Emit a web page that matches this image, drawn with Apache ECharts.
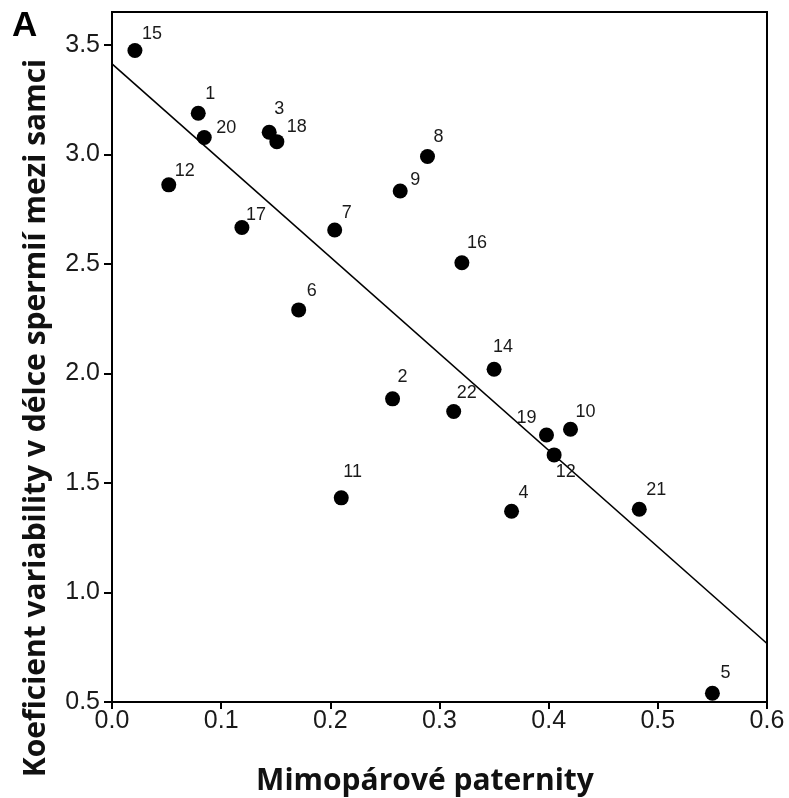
<!DOCTYPE html>
<html>
<head>
<meta charset="utf-8">
<script src="https://cdn.jsdelivr.net/npm/echarts@6/dist/echarts.min.js"></script>
<style>html,body{margin:0;padding:0;background:#fff}#c{width:789px;height:798px}</style>
</head>
<body>
<div id="c"></div>
<script>
// Data
const pointLabels = ['15','1','20','3','18','12','17','7','9','8','6','2','11','14','22','19','10','12','4','21','5','16'];
const xValues = [0.021,0.079,0.0845,0.144,0.151,0.052,0.119,0.204,0.264,0.289,0.171,0.257,0.210,0.350,0.313,0.398,0.420,0.405,0.366,0.483,0.550,0.3205];
const yValues = [3.474,3.188,3.077,3.101,3.058,2.861,2.666,2.655,2.833,2.990,2.290,1.884,1.432,2.019,1.826,1.719,1.745,1.628,1.371,1.380,0.540,2.505];
const fitX = [0, 0.6];
const fitY = [3.413, 0.767];
const xTicks = [0, 0.1, 0.2, 0.3, 0.4, 0.5, 0.6];
const yTicks = [0.5, 1.0, 1.5, 2.0, 2.5, 3.0, 3.5];

// Label offsets (styling only): [dx from point centre to text left, dy to text centre]
const labelOffsets = {
  0:[7,-17], 1:[7,-19], 2:[12,-9], 3:[5,-23], 4:[10,-15], 5:[6,-14], 6:[4,-13],
  7:[7,-17], 8:[10,-11], 9:[6,-20], 10:[8,-19], 11:[5,-22], 12:[2,-26], 13:[-1,-22],
  14:[3,-19], 15:[-30,-17], 16:[5,-17], 17:[1.5,17], 18:[7,-18], 19:[7,-19], 20:[8,-20], 21:[5,-20]
};

const pts = xValues.map((x, i) => {
  const off = labelOffsets[i] || [6,-18];
  return {
    value: [x, yValues[i]],
    name: pointLabels[i],
    label: { offset: [off[0] - 7.5, off[1]] }
  };
});

const chart = echarts.init(document.getElementById('c'), null, {renderer: 'canvas'});
const axisFont = '"Liberation Sans", Arial, sans-serif';
chart.setOption({
  animation: false,
  backgroundColor: '#fff',
  grid: { left: 112, right: 22, top: 12, bottom: 96, show: true, borderColor: '#000', borderWidth: 2, containLabel: false },
  xAxis: {
    type: 'value', min: 0, max: 0.6, interval: 0.1,
    axisLine: { show: true, lineStyle: { color: '#000', width: 2 } },
    axisTick: { show: true, inside: false, length: 7, lineStyle: { color: '#000', width: 2 } },
    splitLine: { show: false },
    axisLabel: { color: '#1a1a1a', fontSize: 25, fontFamily: axisFont, margin: 7,
      formatter: v => v.toFixed(1) }
  },
  yAxis: {
    type: 'value', min: 0.5, max: 3.65, interval: 0.5,
    axisLine: { show: true, lineStyle: { color: '#000', width: 2 } },
    axisTick: { show: true, inside: false, length: 8, lineStyle: { color: '#000', width: 2 } },
    splitLine: { show: false },
    axisLabel: { color: '#1a1a1a', fontSize: 25, fontFamily: axisFont, margin: 12, showMaxLabel: false,
      formatter: v => yTicks.some(t => Math.abs(t - v) < 1e-9) ? v.toFixed(1) : '' }
  },
  series: [
    {
      type: 'line',
      data: fitX.map((x, i) => [x, fitY[i]]),
      symbol: 'none',
      lineStyle: { color: '#000', width: 1.6 },
      silent: true,
      z: 2
    },
    {
      type: 'scatter',
      data: pts,
      symbol: 'circle',
      symbolSize: 15,
      itemStyle: { color: '#000', opacity: 1 },
      label: {
        show: true,
        position: 'right',
        distance: 0,
        formatter: p => p.name,
        color: '#1a1a1a',
        fontSize: 18,
        fontFamily: axisFont
      },
      z: 3
    }
  ],
  graphic: [
    { type: 'text', left: 12, top: 9, style: { text: 'A', font: 'bold 35px "Liberation Sans", Arial, sans-serif', fill: '#000' } },
    { type: 'text', x: 425, y: 781, style: { text: 'Mimopárové paternity', font: 'bold 30px "Open Sans", sans-serif', fill: '#111', align: 'center', verticalAlign: 'middle' } },
    { type: 'text', x: 36, y: 418, rotation: Math.PI / 2, style: { text: 'Koeficient variability v délce spermií mezi samci', font: 'bold 30px "Open Sans", sans-serif', fill: '#111', align: 'center', verticalAlign: 'middle' } }
  ]
});
</script>
</body>
</html>
